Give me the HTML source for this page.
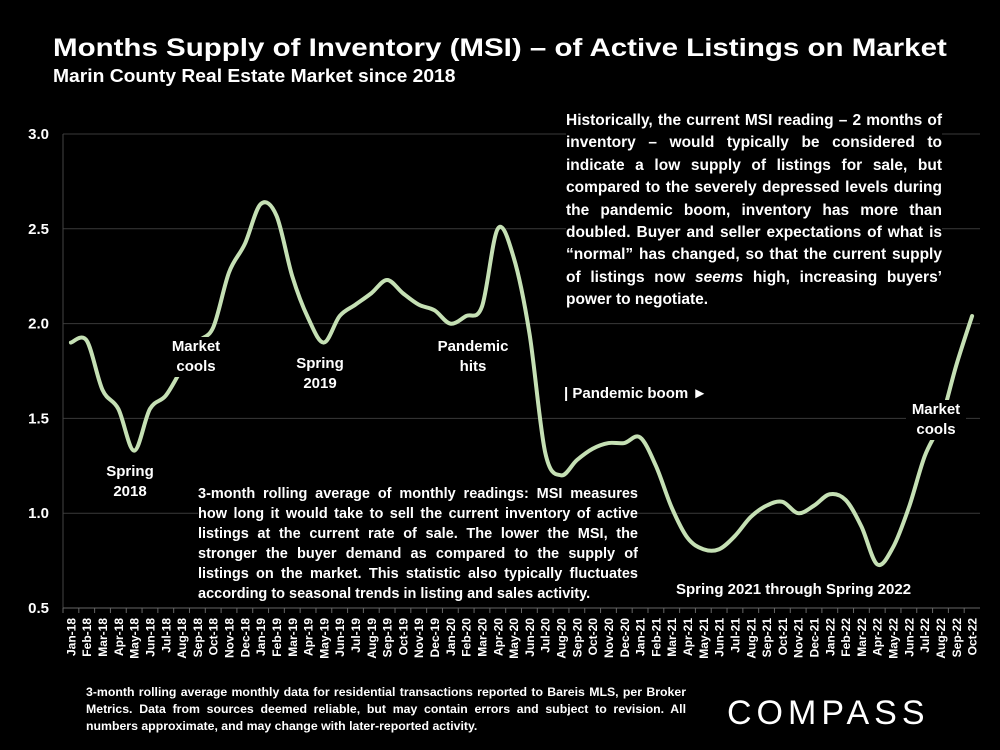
<!DOCTYPE html>
<html><head><meta charset="utf-8"><style>
body{margin:0;background:#000;width:1000px;height:750px;overflow:hidden;font-family:"Liberation Sans",sans-serif;color:#fff}
.t{position:absolute;font-weight:bold}
.box{position:absolute;background:#000;font-weight:bold;color:#fff}
</style></head><body>
<div class="t" style="left:53px;top:34px;font-size:25px;transform-origin:0 0;transform:scaleX(1.18);white-space:nowrap">Months Supply of Inventory (MSI) – of Active Listings on Market</div>
<div class="t" style="left:53px;top:66px;font-size:18px;transform-origin:0 0;transform:scaleX(1.07);white-space:nowrap">Marin County Real Estate Market since 2018</div>
<svg id="ch" width="1000" height="750" style="position:absolute;left:0;top:0"></svg>
<div class="box" style="left:566px;top:110px;width:376px;font-size:15.5px;line-height:22.4px;text-align:justify">Historically, the current MSI reading – 2 months of inventory – would typically be considered to indicate a low supply of listings for sale, but compared to the severely depressed levels during the pandemic boom, inventory has more than doubled. Buyer and seller expectations of what is “normal” has changed, so that the current supply of listings now <i>seems</i> high, increasing buyers’ power to negotiate.</div>
<div class="box" style="left:198px;top:484px;width:440px;font-size:14.5px;line-height:20px;text-align:justify">3-month rolling average of monthly readings: MSI measures how long it would take to sell the current inventory of active listings at the current rate of sale. The lower the MSI, the stronger the buyer demand as compared to the supply of listings on the market. This statistic also typically fluctuates according to seasonal trends in listing and sales activity.</div>
<div class="box" style="left:105px;top:462px;width:50px;text-align:center;font-size:15px;line-height:20px">Spring 2018</div>
<div class="box" style="left:165px;top:337px;width:58px;padding:0 2px;text-align:center;font-size:15px;line-height:20px">Market cools</div>
<div class="box" style="left:295px;top:354px;width:50px;text-align:center;font-size:15px;line-height:20px;background:transparent">Spring 2019</div>
<div class="box" style="left:436px;top:337px;width:74px;text-align:center;font-size:15px;line-height:20px;background:transparent">Pandemic hits</div>
<div class="box" style="left:564px;top:385px;font-size:15px;background:transparent">| Pandemic boom ►</div>
<div class="box" style="left:676px;top:581px;font-size:15px;background:transparent">Spring 2021 through Spring 2022</div>
<div class="box" style="left:906px;top:400px;width:60px;text-align:center;font-size:15px;line-height:20px">Market cools</div>
<div class="t" style="left:86px;top:684px;width:600px;font-size:12.3px;line-height:17px;text-align:justify">3-month rolling average monthly data for residential transactions reported to Bareis MLS, per Broker Metrics. Data from sources deemed reliable, but may contain errors and subject to revision. All numbers approximate, and may change with later-reported activity.</div>
<div class="t" style="left:727px;top:694px;font-size:34px;font-weight:normal;letter-spacing:5px">COMPASS</div>
<script>
const categories=["Jan-18","Feb-18","Mar-18","Apr-18","May-18","Jun-18","Jul-18","Aug-18","Sep-18","Oct-18","Nov-18","Dec-18","Jan-19","Feb-19","Mar-19","Apr-19","May-19","Jun-19","Jul-19","Aug-19","Sep-19","Oct-19","Nov-19","Dec-19","Jan-20","Feb-20","Mar-20","Apr-20","May-20","Jun-20","Jul-20","Aug-20","Sep-20","Oct-20","Nov-20","Dec-20","Jan-21","Feb-21","Mar-21","Apr-21","May-21","Jun-21","Jul-21","Aug-21","Sep-21","Oct-21","Nov-21","Dec-21","Jan-22","Feb-22","Mar-22","Apr-22","May-22","Jun-22","Jul-22","Aug-22","Sep-22","Oct-22"];
const msiValues=[1.90,1.91,1.65,1.55,1.33,1.55,1.62,1.76,1.90,1.98,2.27,2.42,2.63,2.57,2.25,2.03,1.90,2.04,2.10,2.16,2.23,2.16,2.10,2.07,2.00,2.04,2.09,2.50,2.35,1.95,1.32,1.20,1.28,1.34,1.37,1.37,1.40,1.25,1.03,0.87,0.81,0.81,0.88,0.98,1.04,1.06,1.00,1.04,1.10,1.07,0.93,0.73,0.82,1.03,1.30,1.48,1.78,2.04];
const yTicks=[0.5,1.0,1.5,2.0,2.5,3.0];
const svg=document.getElementById('ch'),NS='http://www.w3.org/2000/svg';
const L=63,R=980,T=134,B=608,yMin=0.5,yMax=3.0;
const bw=(R-L)/categories.length;
const x=i=>L+bw*(i+0.5), y=v=>B-(v-yMin)/(yMax-yMin)*(B-T);
function mk(t,a){const e=document.createElementNS(NS,t);for(const k in a)e.setAttribute(k,a[k]);svg.appendChild(e);return e;}
yTicks.forEach(v=>{
 const g=mk('line',{x1:L,x2:R,y1:y(v),y2:y(v),stroke:'#3a3a3a','stroke-width':1});
 
 
 const t=mk('text',{x:49,y:y(v)+5,'text-anchor':'end',fill:'#fff','font-size':15,'font-weight':'bold','font-family':'Liberation Sans'});
 t.textContent=v.toFixed(1);
 
 
});
const ax=mk('line',{x1:L,x2:L,y1:T,y2:B,stroke:'#444'});


const xa=mk('line',{x1:L,x2:R,y1:B,y2:B,stroke:'#666'});


categories.forEach((c,i)=>{
 const tk=mk('line',{x1:L+bw*i,x2:L+bw*i,y1:B,y2:B+5,stroke:'#666'});
 
 
 const t=mk('text',{x:0,y:0,'text-anchor':'end',fill:'#fff','font-size':12,'font-weight':'bold','font-family':'Liberation Sans',transform:`translate(${x(i)+4.5},${B+10}) rotate(-90)`});
 t.textContent=c;
 
 
});
const P=msiValues.map((v,i)=>[x(i),y(v)]);
let d=`M${P[0][0]},${P[0][1]}`;
for(let i=0;i<P.length-1;i++){
 const p0=P[Math.max(0,i-1)],p1=P[i],p2=P[i+1],p3=P[Math.min(P.length-1,i+2)];
 const c1=[p1[0]+(p2[0]-p0[0])/6,p1[1]+(p2[1]-p0[1])/6],c2=[p2[0]-(p3[0]-p1[0])/6,p2[1]-(p3[1]-p1[1])/6];
 d+=`C${c1[0]},${c1[1]} ${c2[0]},${c2[1]} ${p2[0]},${p2[1]}`;
}
const ln=mk('path',{d:d,fill:'none',stroke:'#c5e0b4','stroke-width':4,'stroke-linecap':'round'});


</script>
</body></html>
